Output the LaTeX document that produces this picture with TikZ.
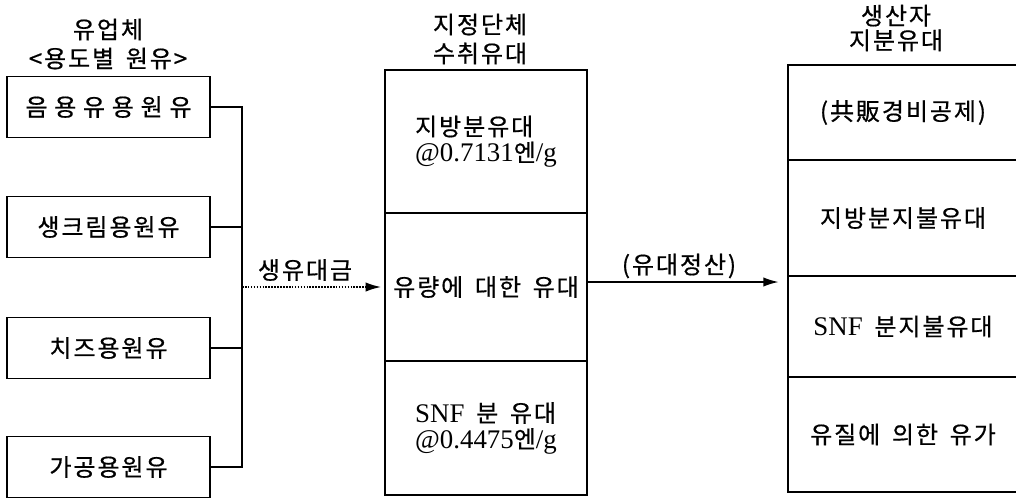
\documentclass[tikz,border=0pt]{standalone}
\usepackage{fontspec}
\setmainfont{Noto Sans CJK KR}[LetterSpace=8, WordSpace=1.6, FakeBold=0.6]
\newfontfamily\lat{Liberation Serif}[Scale=1.12]
\newfontfamily\krsp{Noto Sans CJK KR}[LetterSpace=28, FakeBold=0.6]
\usetikzlibrary{arrows.meta}
\tikzset{
  every node/.style={inner sep=0pt, outer sep=0pt},
  txt/.style={font=\fontsize{18}{19.5}\selectfont},
  leftbox/.style={draw, line width=1.2pt, minimum width=152.25pt, minimum height=45.5pt, txt},
  midbox/.style={draw, line width=1.2pt, minimum width=151.5pt, txt, align=left},
  rightbox/.style={draw, line width=1.2pt, minimum width=172.5pt, txt},
  conn/.style={line width=1.2pt},
  arr/.style={line width=1.2pt, -{Latex[length=11.5pt,width=7pt]}},
  title/.style={font=\fontsize{18}{21.75}\selectfont, align=center}
}
\begin{document}
\begin{tikzpicture}[x=0.75pt,y=-0.75pt]
\useasboundingbox (0,0) rectangle (1016,500);
\clip (0,0) rectangle (1016,500);
% titles
\node[title] (t1) at (108,44) {유업체\\<용도별 원유>};
\node[title] (t2) at (480,39) {지정단체\\수취유대};
\node[font=\fontsize{18}{18.5}\selectfont, align=center] (t3) at (896,28) {생산자\\지분유대};
% left boxes
\node[leftbox] (b1) at (108.5,107) {\krsp 음용유용원유};
\node[leftbox] (b2) at (108.5,227) {생크림용원유};
\node[leftbox] (b3) at (108.5,348) {치즈용원유};
\node[leftbox] (b4) at (108.5,467) {가공용원유};
% middle column
\node[midbox, minimum height=107.25pt] (m1) at (486,141.5) {지방분유대\\{\lat @0.7131}엔{\lat /g}};
\node[midbox, minimum height=111pt] (m2) at (486,287) {유량에 대한 유대};
\node[midbox, minimum height=100.5pt] (m3) at (486,428) {{\lat SNF} 분 유대\\{\lat @0.4475}엔{\lat /g}};
% right column
\node[rightbox, minimum height=71.25pt] (r1) at (903,112.5) {(共販경비공제)};
\node[rightbox, minimum height=87pt] (r2) at (903,218) {지방분지불유대};
\node[rightbox, minimum height=75.75pt] (r3) at (903,326.5) {{\lat SNF} 분지불유대};
\node[rightbox, minimum height=86.25pt] (r4) at (903,434.5) {유질에 의한 유가};
% bus
\coordinate (bus) at (242,287);
\draw[conn] (b1.east) -- (b1.east -| bus) -- (b4.east -| bus) -- (b4.east);
\draw[conn] (b2.east) -- (b2.east -| bus);
\draw[conn] (b3.east) -- (b3.east -| bus);
\draw[arr, densely dotted, shorten >=3pt] (bus) -- (m2.west);
\node[txt] (l1) at (305,270) {생유대금};
\draw[arr, shorten >=7pt] ([yshift=3.75pt]m2.east) -- ([yshift=3.75pt]m2.east -| r3.west);
\node[txt] (l2) at (679,266) {(유대정산)};
\end{tikzpicture}
\end{document}
